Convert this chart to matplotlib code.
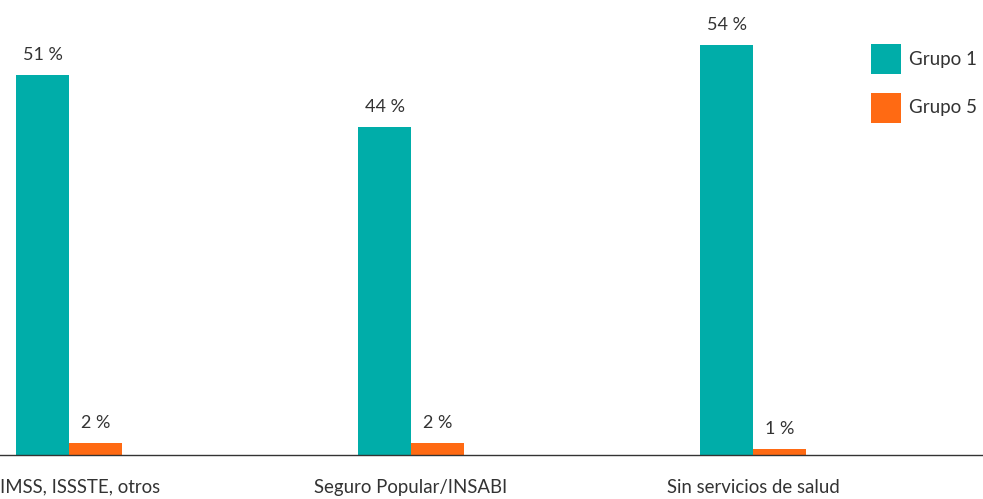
import matplotlib.pyplot as plt
import matplotlib.transforms as mtransforms
import numpy as np

categories = ["IMSS, ISSSTE, otros", "Seguro Popular/INSABI", "Sin servicios de salud"]
grupo1 = [50.6, 43.7, 54.6]
grupo5 = [1.6, 1.6, 0.75]
grupo1_labels = ["51 %", "44 %", "54 %"]
grupo5_labels = ["2 %", "2 %", "1 %"]
series_names = ["Grupo 1", "Grupo 5"]

teal = "#00ADA9"
orange = "#FF6A13"
text_color = "#333333"

plt.rcParams['font.family'] = ['Lato', 'DejaVu Sans']

fig = plt.figure(figsize=(9.83, 4.99), dpi=100)
ax = fig.add_axes([0, 44.5 / 499, 1, 454.5 / 499])

x = np.arange(len(categories))
w = 0.155
b1 = ax.bar(x - w / 2, grupo1, w, color=teal, label=series_names[0])
b5 = ax.bar(x + w / 2, grupo5, w, color=orange, label=series_names[1])

for bars, labels in ((b1, grupo1_labels), (b5, grupo5_labels)):
    for rect, lab in zip(bars, labels):
        ax.annotate(lab,
                    (rect.get_x() + rect.get_width() / 2, rect.get_height()),
                    xytext=(0, 8.5), textcoords="offset points",
                    ha="center", va="bottom", fontsize=13, color=text_color)

ax.set_xlim(-0.2018, 2.672)
ax.set_ylim(0, 60.6)

for s in ("top", "right", "left"):
    ax.spines[s].set_visible(False)
ax.spines["bottom"].set_color("#333333")
ax.spines["bottom"].set_linewidth(1)
ax.set_yticks([])
ax.set_xticks([])

trans = mtransforms.blended_transform_factory(ax.transData, ax.transAxes)
for i, cat in enumerate(categories):
    if i == 0:
        ax.text(ax.get_xlim()[0], -0.072, cat, transform=trans, ha="left",
                va="center", fontsize=13.4, color=text_color)
    else:
        ax.text(x[i], -0.072, cat, transform=trans, ha="center",
                va="center", fontsize=13.4, color=text_color)

ax.legend(loc="upper left", bbox_to_anchor=(871 / 983, 1 - 44 / 454.5),
          frameon=False, borderpad=0, borderaxespad=0,
          handlelength=1.6, handleheight=2.085, handletextpad=0.45,
          labelspacing=0.99, fontsize=13.5, labelcolor=text_color)

fig.savefig("out.png", dpi=100)
